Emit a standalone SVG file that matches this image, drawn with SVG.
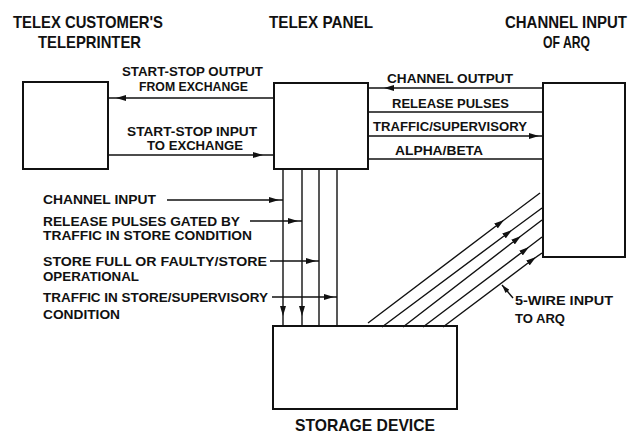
<svg xmlns="http://www.w3.org/2000/svg" width="635" height="435" viewBox="0 0 635 435">
<style>
.box{fill:none;stroke:#111;stroke-width:2}
.w{fill:none;stroke:#111;stroke-width:1.4}
.arr{marker-mid:url(#ah)}
text{font-family:"Liberation Sans",Arial,sans-serif;fill:#111;font-weight:bold}
.t{font-size:17px}
.s{font-size:13px}
</style>
<defs>
<marker id="ah" viewBox="0 0 10 6" refX="5" refY="3" markerWidth="10" markerHeight="6" markerUnits="userSpaceOnUse" orient="auto">
<path d="M0,0 L10,3 L0,6 z" fill="#111"/>
</marker>
<marker id="ahe" viewBox="0 0 10 6" refX="10" refY="3" markerWidth="9" markerHeight="5" markerUnits="userSpaceOnUse" orient="auto">
<path d="M0,0 L10,3 L0,6 z" fill="#111"/>
</marker>
</defs>
<rect width="635" height="435" fill="#fff"/>
<g id="teleprinter">
<rect class="box" x="23" y="82" width="85" height="87"/>
<text class="t" x="13" y="28" textLength="150" lengthAdjust="spacingAndGlyphs">TELEX CUSTOMER'S</text>
<text class="t" x="38" y="48" textLength="103" lengthAdjust="spacingAndGlyphs">TELEPRINTER</text>
</g>
<g id="panel">
<rect class="box" x="274" y="83" width="94" height="86"/>
<text class="t" x="269" y="28" textLength="104" lengthAdjust="spacingAndGlyphs">TELEX PANEL</text>
</g>
<g id="arq">
<rect class="box" x="543" y="83" width="82" height="174"/>
<text class="t" x="505" y="28" textLength="122" lengthAdjust="spacingAndGlyphs" style="font-size:16px">CHANNEL INPUT</text>
<text class="t" x="543" y="48" textLength="47" lengthAdjust="spacingAndGlyphs">OF ARQ</text>
</g>
<g id="storage">
<rect class="box" x="273" y="326" width="184" height="83"/>
<text class="t" x="295" y="431" textLength="140" lengthAdjust="spacingAndGlyphs">STORAGE DEVICE</text>
</g>
<g id="connectors">
<path class="w arr" d="M274,98 L121,98 L108,98"/>
<path class="w arr" d="M108,155 L258,155 L274,155"/>
<path class="w arr" d="M543,88 L389,88 L368,88"/>
<path class="w" d="M368,112 L543,112"/>
<path class="w arr" d="M368,136 L534,136 L543,136"/>
<path class="w" d="M368,159 L543,159"/>
<path class="w arr" d="M283,169 L283,311 L283,326"/>
<path class="w arr" d="M302,169 L302,311 L302,326"/>
<path class="w" d="M319,169 L319,326"/>
<path class="w" d="M337,169 L337,326"/>
<path class="w arr" d="M167,200 L274,200 L283,200"/>
<path class="w arr" d="M250,221 L293,221 L302,221"/>
<path class="w arr" d="M270,261 L311,261 L319,261"/>
<path class="w arr" d="M272,297 L329,297 L337,297"/>
<path class="w arr" d="M368,323 L500,223 L540,193"/>
<path class="w arr" d="M382,327 L508,233 L542,208"/>
<path class="w arr" d="M403,327 L517,239 L542,220"/>
<path class="w arr" d="M423,327 L525,250 L542,237"/>
<path class="w arr" d="M443,327 L532,260 L542,253"/>
<path class="w" d="M513,298 L502,285" marker-end="url(#ahe)"/>
</g>
<g id="labels">
<text class="s" x="122" y="76" textLength="141" lengthAdjust="spacingAndGlyphs">START-STOP OUTPUT</text>
<text class="s" x="139" y="91" textLength="109" lengthAdjust="spacingAndGlyphs">FROM EXCHANGE</text>
<text class="s" x="127" y="136" textLength="130" lengthAdjust="spacingAndGlyphs">START-STOP INPUT</text>
<text class="s" x="147" y="150" textLength="96" lengthAdjust="spacingAndGlyphs">TO EXCHANGE</text>
<text class="s" x="387" y="83" textLength="126" lengthAdjust="spacingAndGlyphs">CHANNEL OUTPUT</text>
<text class="s" x="392" y="108" textLength="117" lengthAdjust="spacingAndGlyphs">RELEASE PULSES</text>
<text class="s" x="373" y="131" textLength="154" lengthAdjust="spacingAndGlyphs">TRAFFIC/SUPERVISORY</text>
<text class="s" x="395" y="155" textLength="88" lengthAdjust="spacingAndGlyphs">ALPHA/BETA</text>
<text class="s" x="43" y="204" textLength="113" lengthAdjust="spacingAndGlyphs">CHANNEL INPUT</text>
<text class="s" x="43" y="226" textLength="197" lengthAdjust="spacingAndGlyphs">RELEASE PULSES GATED BY</text>
<text class="s" x="43" y="240" textLength="209" lengthAdjust="spacingAndGlyphs">TRAFFIC IN STORE CONDITION</text>
<text class="s" x="43" y="266" textLength="224" lengthAdjust="spacingAndGlyphs">STORE FULL OR FAULTY/STORE</text>
<text class="s" x="43" y="281" textLength="96" lengthAdjust="spacingAndGlyphs">OPERATIONAL</text>
<text class="s" x="43" y="302" textLength="225" lengthAdjust="spacingAndGlyphs">TRAFFIC IN STORE/SUPERVISORY</text>
<text class="s" x="43" y="319" textLength="77" lengthAdjust="spacingAndGlyphs">CONDITION</text>
<text class="s" x="515" y="305" textLength="98" lengthAdjust="spacingAndGlyphs">5-WIRE INPUT</text>
<text class="s" x="515" y="323" textLength="50" lengthAdjust="spacingAndGlyphs">TO ARQ</text>
</g>
</svg>
